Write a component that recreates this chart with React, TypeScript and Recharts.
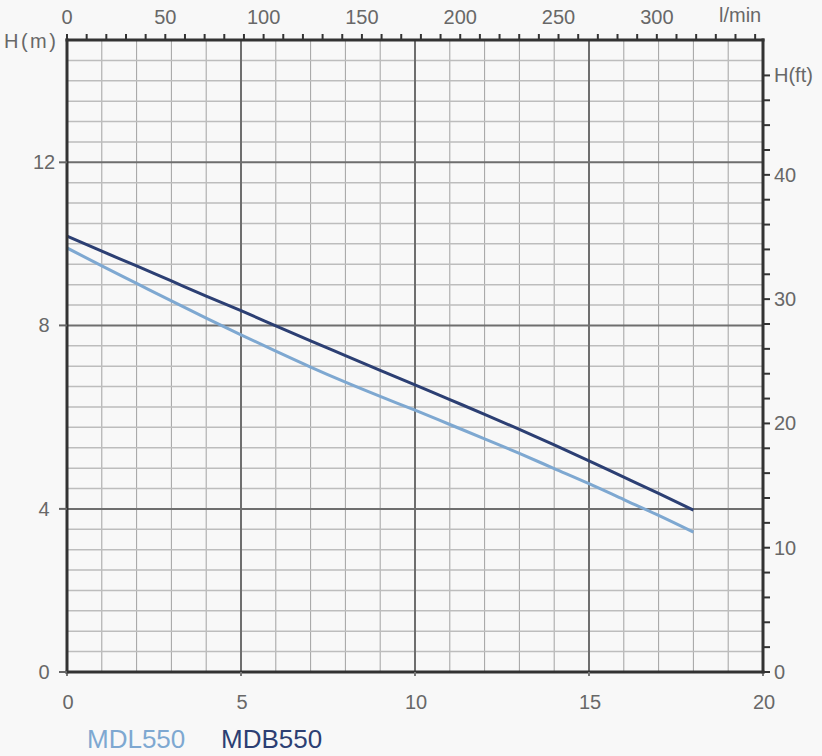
import React from 'react';
import {
  LineChart, Line, XAxis, YAxis, CartesianGrid, ReferenceLine,
} from 'recharts';

// Flow (m³/h)
const flowM3h = [0, 1, 2, 3, 4, 5, 6, 7, 8, 9, 10, 11, 12, 13, 14, 15, 16, 17, 18];
// Head (m)
const mdl550Head = [10.40, 9.96, 9.53, 9.10, 8.68, 8.27, 7.87, 7.48, 7.11, 6.76, 6.42, 6.07, 5.72, 5.36, 4.99, 4.62, 4.23, 3.84, 3.43];
const mdb550Head = [10.69, 10.32, 9.96, 9.59, 9.22, 8.86, 8.49, 8.12, 7.76, 7.40, 7.04, 6.68, 6.32, 5.95, 5.57, 5.18, 4.78, 4.38, 3.97];

const seriesNames = ['MDL550', 'MDB550'];
const seriesColors = ['#7EA8D1', '#2C3F73'];

// Bottom axis (m³/h)
const bottomDomain = [0, 20];
const bottomTicks = [0, 5, 10, 15, 20];
const minorVertical = [1, 2, 3, 4, 6, 7, 8, 9, 11, 12, 13, 14, 16, 17, 18, 19];
const majorVertical = [5, 10, 15];

// Top axis (l/min)
const topDomain = [0, 354];
const topTicks = [0, 10, 20, 30, 40, 50, 60, 70, 80, 90, 100, 110, 120, 130, 140, 150, 160, 170, 180, 190, 200, 210, 220, 230, 240, 250, 260, 270, 280, 290, 300, 310, 320, 330, 340, 350];
const topLabeled = [0, 50, 100, 150, 200, 250, 300];
const topUnit = 'l/min';

// Left axis (m) — label positions as drawn in the reference
const leftDomain = [0, 15.5];
const leftTickValues = [0, 4, 8.5, 12.5];
const leftTickLabels = ['0', '4', '8', '12'];
const leftUnit = 'H(m)';
const minorHorizontal = [0.5, 1, 1.5, 2, 2.5, 3, 3.5, 4.5, 5, 5.5, 6, 6.5, 7, 7.5, 8, 9, 9.5, 10, 10.5, 11, 11.5, 12, 13, 13.5, 14, 14.5, 15];
const majorHorizontal = [4, 8.5, 12.5];

// Right axis (ft)
const rightDomain = [0, 50.85];
const rightTicks = [0, 2, 4, 6, 8, 10, 12, 14, 16, 18, 20, 22, 24, 26, 28, 30, 32, 34, 36, 38, 40, 42, 44, 46, 48];
const rightLabeled = [0, 10, 20, 30, 40];
const rightUnit = 'H(ft)';
const rightUnitTick = 48;

const data = flowM3h.map((q, i) => ({ q, lpm: (q * 1000) / 60, mdl: mdl550Head[i], mdb: mdb550Head[i] }));

const FONT = '"Liberation Sans", Arial, sans-serif';
const TXT = '#686868';
const FS = 20;

const BottomTick = (p: any) => (
  <text x={p.x + 1} y={p.y} dy="0.35em" textAnchor="middle" fill={TXT} fontSize={FS} fontFamily={FONT}>
    {p.payload.value}
  </text>
);

const TopTick = (p: any) => {
  const v = p.payload.value;
  if (v === 350) {
    return (
      <text x={p.x - 15} y={p.y - 2} dy="0.35em" textAnchor="middle" fill={TXT} fontSize={FS} fontFamily={FONT}>
        {topUnit}
      </text>
    );
  }
  if (!topLabeled.includes(v)) return <g />;
  return (
    <text x={p.x} y={p.y} dy="0.35em" textAnchor="middle" fill={TXT} fontSize={FS} fontFamily={FONT}>
      {v}
    </text>
  );
};

const LeftTick = (p: any) => {
  const idx = leftTickValues.indexOf(p.payload.value);
  return (
    <text x={p.x} y={p.y} dy="0.35em" textAnchor="middle" fill={TXT} fontSize={FS} fontFamily={FONT}>
      {idx >= 0 ? leftTickLabels[idx] : ''}
    </text>
  );
};

const RightTick = (p: any) => {
  const v = p.payload.value;
  let label = '';
  if (v === rightUnitTick) label = rightUnit;
  else if (rightLabeled.includes(v)) label = String(v);
  if (!label) return <g />;
  return (
    <text x={p.x} y={p.y} dy="0.35em" textAnchor="start" fill={TXT} fontSize={FS} fontFamily={FONT}>
      {label}
    </text>
  );
};

const LeftUnitLabel = (props: any) => {
  const vb = props.viewBox || {};
  return (
    <text x={(vb.x ?? 0) + 4} y={(vb.y ?? 0) + 1} dy="0.35em" textAnchor="start" fill={TXT} fontSize={FS} fontFamily={FONT} letterSpacing={2.5}>
      {leftUnit}
    </text>
  );
};

const axisLine = { stroke: '#333', strokeWidth: 3, strokeLinecap: 'square' as const };

export default function App() {
  return (
    <div style={{ position: 'absolute', left: 0, top: 0, width: 822, height: 756, background: '#f8f8f8', fontFamily: FONT }}>
      <LineChart width={822} height={756} data={data} margin={{ top: 0, right: 0, bottom: 0, left: 0 }}>
        <CartesianGrid xAxisId="bottom" yAxisId="left" horizontal={false} verticalValues={minorVertical} stroke="#a2a2a2" strokeWidth={1} />
        <CartesianGrid xAxisId="bottom" yAxisId="left" vertical={false} horizontalValues={minorHorizontal} stroke="#bdbdbd" strokeWidth={1.5} />
        {majorVertical.map((v) => (
          <ReferenceLine key={'v' + v} x={v} xAxisId="bottom" yAxisId="left" stroke="#6e6e6e" strokeWidth={2} />
        ))}
        {majorHorizontal.map((v) => (
          <ReferenceLine key={'h' + v} y={v} xAxisId="bottom" yAxisId="left" stroke="#6e6e6e" strokeWidth={2} />
        ))}
        <XAxis
          xAxisId="bottom" dataKey="q" type="number" domain={bottomDomain} ticks={bottomTicks}
          orientation="bottom" height={84} allowDataOverflow
          axisLine={axisLine} tickLine={{ stroke: '#777', strokeWidth: 2 }} tickSize={4} tickMargin={26}
          tick={<BottomTick />} interval={0}
        />
        <XAxis
          xAxisId="top" dataKey="lpm" type="number" domain={topDomain} ticks={topTicks}
          orientation="top" height={40} allowDataOverflow
          axisLine={axisLine} tickLine={{ stroke: '#333', strokeWidth: 2 }} tickSize={6} tickMargin={17}
          tick={<TopTick />} interval={0}
        />
        <YAxis
          yAxisId="left" type="number" domain={leftDomain} ticks={leftTickValues}
          orientation="left" width={67} allowDataOverflow
          axisLine={axisLine} tickLine={{ stroke: '#666', strokeWidth: 2 }} tickSize={8} tickMargin={15}
          tick={<LeftTick />} interval={0}
          label={<LeftUnitLabel />}
        />
        <YAxis
          yAxisId="right" type="number" domain={rightDomain} ticks={rightTicks}
          orientation="right" width={59} allowDataOverflow
          axisLine={axisLine} tickLine={{ stroke: '#333', strokeWidth: 2 }} tickSize={7} tickMargin={4}
          tick={<RightTick />} interval={0}
        />
        <Line xAxisId="bottom" yAxisId="left" type="monotone" dataKey="mdl" name={seriesNames[0]} stroke={seriesColors[0]} strokeWidth={3} dot={false} isAnimationActive={false} />
        <Line xAxisId="bottom" yAxisId="left" type="monotone" dataKey="mdb" name={seriesNames[1]} stroke={seriesColors[1]} strokeWidth={3} dot={false} isAnimationActive={false} />
      </LineChart>
      <div style={{ position: 'absolute', left: 87, top: 726, fontSize: 26, lineHeight: '26px', color: seriesColors[0], whiteSpace: 'nowrap' }}>
        {seriesNames[0]}
      </div>
      <div style={{ position: 'absolute', left: 221, top: 726, fontSize: 26, lineHeight: '26px', color: seriesColors[1], whiteSpace: 'nowrap' }}>
        {seriesNames[1]}
      </div>
    </div>
  );
}
